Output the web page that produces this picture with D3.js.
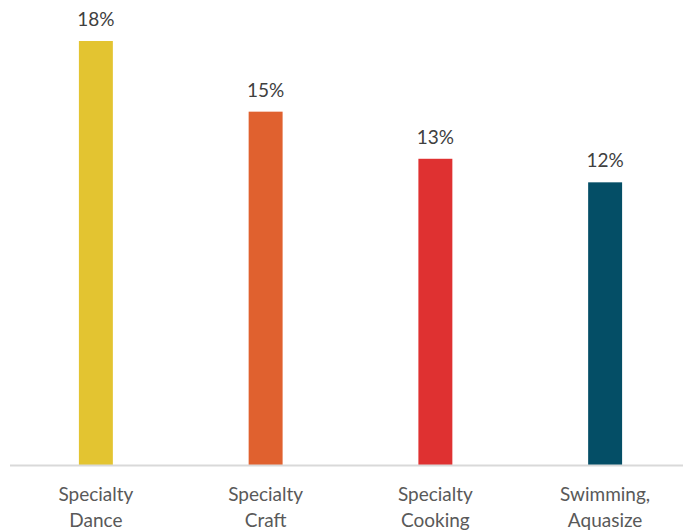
<!DOCTYPE html>
<html>
<head>
<meta charset="utf-8">
<script src="https://cdn.jsdelivr.net/npm/d3@7"></script>
<style>
  html, body { margin: 0; padding: 0; background: #fff; }
  svg { display: block; }
  text { font-family: Lato, "Open Sans", sans-serif; }
</style>
</head>
<body>
<svg id="chart" width="683" height="532"></svg>
<script>
// Share of participants by activity
const categories = [["Specialty", "Dance"], ["Specialty", "Craft"], ["Specialty", "Cooking"], ["Swimming,", "Aquasize"]];
const values = [18, 15, 13, 12];
const colors = ["#E3C431", "#E0612F", "#DF3131", "#044E66"];

const svg = d3.select("#chart");
const baseY = 465;

const x = d3.scaleBand()
  .domain(d3.range(values.length))
  .range([11, 690])
  .paddingInner(0.8)
  .paddingOuter(0.4);

const y = d3.scaleLinear()
  .domain([0, 18])
  .range([baseY, 41]);

// bars
svg.append("g").selectAll("rect")
  .data(values)
  .join("rect")
  .attr("x", (d, i) => x(i))
  .attr("y", d => y(d))
  .attr("width", x.bandwidth())
  .attr("height", d => baseY - y(d))
  .attr("fill", (d, i) => colors[i]);

// value labels
svg.append("g").selectAll("text")
  .data(values)
  .join("text")
  .attr("x", (d, i) => x(i) + x.bandwidth() / 2)
  .attr("y", d => y(d) - 15)
  .attr("text-anchor", "middle")
  .attr("font-size", 19)
  .attr("fill", "#404040")
  .text(d => d + "%");

// baseline
svg.append("line")
  .attr("x1", 10).attr("x2", 683)
  .attr("y1", baseY + 0.5).attr("y2", baseY + 0.5)
  .attr("stroke", "#d9d9d9")
  .attr("stroke-width", 2);

// category labels
const cat = svg.append("g").selectAll("text")
  .data(categories)
  .join("text")
  .attr("x", (d, i) => x(i) + x.bandwidth() / 2)
  .attr("y", 501)
  .attr("text-anchor", "middle")
  .attr("font-size", 19)
  .attr("fill", "#595959");

cat.selectAll("tspan")
  .data(d => d)
  .join("tspan")
  .attr("x", function() { return d3.select(this.parentNode).attr("x"); })
  .attr("dy", (d, j) => j === 0 ? 0 : 26)
  .text(d => d);
</script>
</body>
</html>
